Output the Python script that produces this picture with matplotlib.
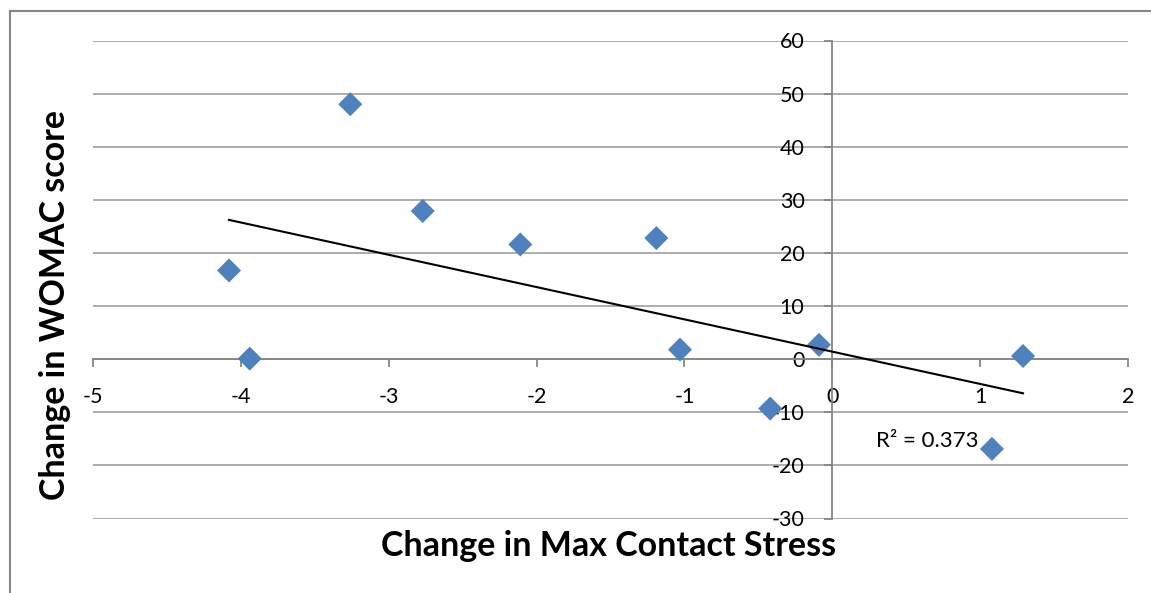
#!/usr/bin/env python3
"""Scatter of WOMAC change against max contact stress change, Excel style."""

import matplotlib

matplotlib.use("Agg")
import matplotlib.pyplot as plt
import numpy as np
from matplotlib.lines import Line2D

# values
stress_change = [-4.08, -3.94, -3.26, -2.77, -2.11, -1.19, -1.03, -0.42, -0.09, 1.29, 1.08]
womac_change = [16.7, 0.1, 48.0, 27.9, 21.6, 22.8, 1.8, -9.3, 2.7, 0.6, -16.9]
x_ticks = [-5, -4, -3, -2, -1, 0, 1, 2]
y_ticks = [-30, -20, -10, 0, 10, 20, 30, 40, 50, 60]
r2_label = "R² = 0.373"

W, H = 1151, 593
blue = "#4F81BD"
axis_grey = "#868686"
grid_grey = "#A6A6A6"

plt.rcParams["font.family"] = ["Lato", "DejaVu Sans"]
plt.rcParams["axes.unicode_minus"] = False

fig = plt.figure(figsize=(W / 100, H / 100), dpi=100)
ax = fig.add_axes([93 / W, 1 - 518.5 / H, (1128 - 93) / W, (518.5 - 40.5) / H])

ax.set_xlim(-5, 2)
ax.set_ylim(-30, 60)
ax.set_xticks(x_ticks)
ax.set_yticks(y_ticks)
ax.yaxis.grid(True, color=grid_grey, linewidth=1.3)
ax.set_axisbelow(True)

for side in ("top", "right"):
    ax.spines[side].set_visible(False)
ax.spines["left"].set_position(("data", 0))
ax.spines["bottom"].set_position(("data", 0))
for side in ("left", "bottom"):
    ax.spines[side].set_color(axis_grey)
    ax.spines[side].set_linewidth(1.3)
ax.tick_params(axis="both", direction="out", length=6, width=1.3,
               color=axis_grey, labelsize=15.5, labelcolor="black")
ax.tick_params(axis="x", pad=14)
ax.tick_params(axis="y", pad=14)

ax.scatter(stress_change, womac_change, marker="D", s=150, color=blue,
           edgecolors="none", zorder=3)

# linear trendline over the data range
slope, intercept = np.polyfit(stress_change, womac_change, 1)
xs = np.array([min(stress_change), max(stress_change)])
ax.plot(xs, slope * xs + intercept, color="black", linewidth=1.5, zorder=4)

ax.text(0.99, -15.4, r2_label, fontsize=16, ha="right", va="center")

fig.text(609 / W, 1 - 546 / H, "Change in Max Contact Stress",
         fontsize=24.5, fontweight="bold", ha="center", va="center")
fig.text(55 / W, 1 - 305 / H, "Change in WOMAC score",
         fontsize=24.5, fontweight="bold", ha="center", va="center", rotation=90)

# chart frame: only top and left edges are visible in the crop
fig.add_artist(Line2D([10 / W, 10 / W], [0, 1 - 11 / H], color=axis_grey, linewidth=1.5))
fig.add_artist(Line2D([10 / W, 1], [1 - 11 / H, 1 - 11 / H], color=axis_grey, linewidth=1.5))

fig.savefig("out.png", dpi=100, facecolor="white")
